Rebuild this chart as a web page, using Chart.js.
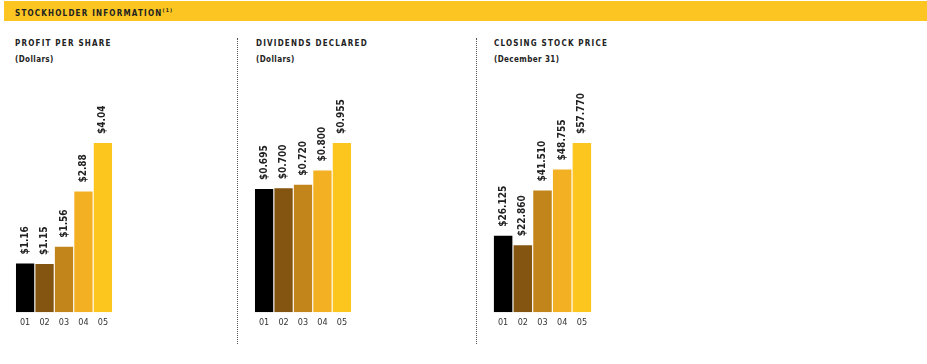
<!DOCTYPE html>
<html>
<head>
<meta charset="utf-8">
<script src="https://cdn.jsdelivr.net/npm/chart.js@4.4.0/dist/chart.umd.min.js"></script>
<style>
    body { margin: 0; background: #fff; width: 927px; height: 364px; position: relative; overflow: hidden;
           font-family: "DejaVu Sans Condensed", "Liberation Sans Narrow", sans-serif; }
    .banner { position: absolute; left: 4px; top: 1px; width: 923px; height: 20px; background: #fcc521; }
    .banner span { position: absolute; left: 11px; top: 6px; font-size: 8px; font-weight: bold; letter-spacing: 1.2px; color: #222; }
    .banner sup { font-size: 5px; }
    .title { position: absolute; font-size: 8px; font-weight: bold; letter-spacing: 1.2px; color: #222; }
    .sub { position: absolute; font-size: 8px; font-weight: bold; letter-spacing: 0.4px; color: #222; }
    .dots { position: absolute; top: 38px; height: 306px; width: 0; border-left: 1.5px dotted #555; }
    canvas { position: absolute; }
</style>
</head>
<body>
<div class="banner"><span>STOCKHOLDER INFORMATION<sup>(1)</sup></span></div>

<div class="title" style="left:15px; top:39px;">PROFIT PER SHARE</div>
<div class="sub" style="left:15px; top:55px;">(Dollars)</div>
<div class="title" style="left:256px; top:39px;">DIVIDENDS DECLARED</div>
<div class="sub" style="left:256px; top:55px;">(Dollars)</div>
<div class="title" style="left:494px; top:39px;">CLOSING STOCK PRICE</div>
<div class="sub" style="left:494px; top:55px;">(December 31)</div>

<div class="dots" style="left:237px;"></div>
<div class="dots" style="left:476px;"></div>

<canvas id="profitChart" width="98" height="253" style="left:15px; top:80px;"></canvas>
<canvas id="dividendChart" width="98" height="253" style="left:254px; top:80px;"></canvas>
<canvas id="stockChart" width="99" height="253" style="left:493px; top:80px;"></canvas>

<script>
const years = ['01', '02', '03', '04', '05'];
const profitPerShare = [1.16, 1.15, 1.56, 2.88, 4.04];
const dividendsDeclared = [0.695, 0.700, 0.720, 0.800, 0.955];
const closingStockPrice = [26.125, 22.860, 41.510, 48.755, 57.770];
const barColors = ['#000000', '#845510', '#c2851b', '#f2b022', '#fdc61f'];

// 막대 위에 세로로 값 표시
const valueLabels = {
    id: 'valueLabels',
    afterDatasetsDraw(chart, args, opts) {
        const ctx = chart.ctx;
        const meta = chart.getDatasetMeta(0);
        const values = chart.data.datasets[0].data;
        ctx.save();
        ctx.font = 'bold 10px "DejaVu Sans Condensed", sans-serif';
        ctx.fillStyle = '#222';
        ctx.textAlign = 'left';
        ctx.textBaseline = 'middle';
        meta.data.forEach((bar, i) => {
            ctx.save();
            ctx.translate(bar.x, bar.y - 9);
            ctx.rotate(-Math.PI / 2);
            ctx.fillText('$' + values[i].toFixed(opts.digits), 0, 0);
            ctx.restore();
        });
        ctx.restore();
    }
};

function makeChart(id, values, digits) {
    const ctx = document.getElementById(id).getContext('2d');
    return new Chart(ctx, {
        type: 'bar',
        data: {
            labels: years,
            datasets: [{
                data: values,
                backgroundColor: barColors,
                borderWidth: 0,
                categoryPercentage: 1,
                barPercentage: 0.94
            }]
        },
        options: {
            responsive: false,
            animation: false,
            devicePixelRatio: 1,
            layout: { padding: { top: 63, left: 0, right: 0, bottom: 0 } },
            scales: {
                x: {
                    grid: { display: false, drawTicks: false },
                    border: { display: false },
                    ticks: {
                        color: '#333',
                        font: { family: '"DejaVu Sans Condensed", sans-serif', size: 9 },
                        padding: 5,
                        maxRotation: 0
                    }
                },
                y: {
                    display: false,
                    min: 0,
                    max: Math.max(...values)
                }
            },
            plugins: {
                legend: { display: false },
                tooltip: { enabled: false },
                valueLabels: { digits: digits }
            }
        },
        plugins: [valueLabels]
    });
}

makeChart('profitChart', profitPerShare, 2);
makeChart('dividendChart', dividendsDeclared, 3);
makeChart('stockChart', closingStockPrice, 3);
</script>
</body>
</html>
